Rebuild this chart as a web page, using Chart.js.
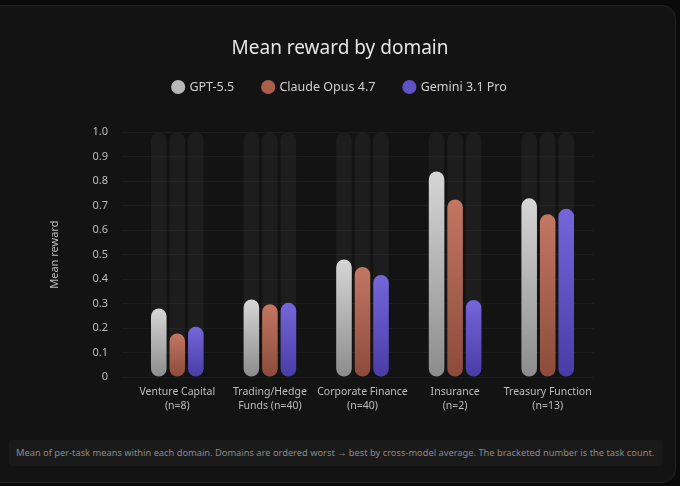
<!DOCTYPE html>
<html lang="en">
<head>
  <meta charset="UTF-8" />
  <title>Mean reward by domain</title>
  <script src="https://cdn.jsdelivr.net/npm/chart.js"></script>
  <style>
    html, body { margin: 0; padding: 0; background: #0a0a0a; width: 680px; height: 486px; overflow: hidden; }
    .card { position: absolute; left: -12px; top: 5px; width: 686px; height: 476px; border-radius: 14px; background: #131313; border: 1px solid #222; }
    #wrap { position: absolute; left: 0; top: 0; width: 680px; height: 430px; }
    .note { position: absolute; left: 9px; top: 440px; width: 653px; height: 26px; background: #1a1a1a; border-radius: 3px;
            font-family: "Noto Sans", sans-serif; font-size: 9.3px; color: #8a8a8a; line-height: 26px; padding-left: 7px; box-sizing: border-box; white-space: nowrap; }
  </style>
</head>
<body>
  <div class="card"></div>
  <div id="wrap"><canvas id="chart"></canvas></div>
  <div class="note">Mean of per-task means within each domain. Domains are ordered worst → best by cross-model average. The bracketed number is the task count.</div>

  <script>
    const categories = [
      ['Venture Capital', '(n=8)'],
      ['Trading/Hedge', 'Funds (n=40)'],
      ['Corporate Finance', '(n=40)'],
      ['Insurance', '(n=2)'],
      ['Treasury Function', '(n=13)']
    ];
    const models = ['GPT-5.5', 'Claude Opus 4.7', 'Gemini 3.1 Pro'];
    const gptValues = [0.28, 0.317, 0.48, 0.84, 0.73];
    const claudeValues = [0.178, 0.297, 0.45, 0.725, 0.665];
    const geminiValues = [0.205, 0.303, 0.417, 0.315, 0.688];
    const yTicks = [0, 0.1, 0.2, 0.3, 0.4, 0.5, 0.6, 0.7, 0.8, 0.9, 1.0];

    const topColors = ['#d6d6d6', '#c27762', '#7566da'];
    const bottomColors = ['#8c8c8c', '#8c4b3b', '#4a3ca6'];
    const legendColors = ['#b8b8b8', '#a9604b', '#5f52c4'];
    const trackColor = 'rgba(255,255,255,0.045)';
    const textFont = '"Noto Sans", sans-serif';

    function barGradient(i) {
      return ctx => {
        const chart = ctx.chart;
        if (!chart.chartArea || ctx.raw === undefined) return topColors[i];
        const y = chart.scales.y;
        const g = chart.ctx.createLinearGradient(0, y.getPixelForValue(ctx.raw), 0, y.getPixelForValue(0));
        g.addColorStop(0, topColors[i]);
        g.addColorStop(1, bottomColors[i]);
        return g;
      };
    }

    const seriesValues = [gptValues, claudeValues, geminiValues];
    const stacks = ['a', 'b', 'c'];
    const datasets = [];
    seriesValues.forEach((vals, i) => {
      datasets.push({
        label: models[i], data: vals, stack: stacks[i],
        backgroundColor: barGradient(i)
      });
    });
    // dark full-height tracks behind each bar
    seriesValues.forEach((vals, i) => {
      datasets.push({
        label: 'track', data: categories.map(() => 1.0), stack: stacks[i],
        backgroundColor: trackColor
      });
    });

    new Chart(document.getElementById('chart'), {
      type: 'bar',
      data: { labels: categories, datasets },
      options: {
        responsive: true,
        maintainAspectRatio: false,
        animation: false,
        datasets: {
          bar: { categoryPercentage: 0.6, barPercentage: 0.84, borderRadius: 8, borderSkipped: false }
        },
        layout: { padding: { left: 0, right: 0, top: 0, bottom: 9 } },
        plugins: {
          tooltip: { enabled: false },
          title: {
            display: true, text: 'Mean reward by domain', color: '#e6e6e6',
            font: { family: textFont, size: 19, weight: 'normal' },
            padding: { top: 37, bottom: -8 }
          },
          subtitle: {
            // empty spacer between legend and plot
            display: true, text: '', weight: 500,
            font: { size: 1, lineHeight: 1 }, padding: { top: 0, bottom: 28 }
          },
          legend: {
            display: true,
            labels: {
              color: '#cfcfcf', font: { family: textFont, size: 12.5 },
              usePointStyle: true, pointStyle: 'circle', boxWidth: 10, boxHeight: 10, padding: 29,
              generateLabels: () => models.map((m, i) => ({
                text: m, fillStyle: legendColors[i], strokeStyle: legendColors[i], lineWidth: 0,
                pointStyle: 'circle', fontColor: '#cfcfcf', datasetIndex: i, hidden: false
              }))
            }
          }
        },
        scales: {
          x: {
            grid: { display: false, drawTicks: false },
            border: { display: false },
            ticks: { color: '#bdbdbd', font: { family: textFont, size: 10.5, lineHeight: 1.333 }, padding: 8, maxRotation: 0, autoSkip: false }
          },
          y: {
            stacked: false,
            min: 0, max: 1,
            afterFit: s => { s.width = 131; },
            afterBuildTicks: s => { s.ticks = yTicks.map(v => ({ value: v })); },
            grid: { color: 'rgba(255,255,255,0.04)', tickLength: 9, drawTicks: true },
            border: { display: false },
            ticks: {
              color: '#bdbdbd', font: { family: textFont, size: 11 }, padding: 14,
              callback: v => v === 0 ? '0' : v.toFixed(1)
            },
            title: {
              display: true, text: 'Mean reward', color: '#bdbdbd',
              font: { family: textFont, size: 11 }, padding: { top: 48, bottom: 0 }
            }
          },
          // empty right-hand spacer so the plot sits left of centre like the original
          spacer: {
            type: 'linear', position: 'right', display: true,
            afterFit: s => { s.width = 86; },
            grid: { display: false, drawTicks: false },
            border: { display: false },
            ticks: { display: false }
          }
        }
      }
    });
  </script>
</body>
</html>
